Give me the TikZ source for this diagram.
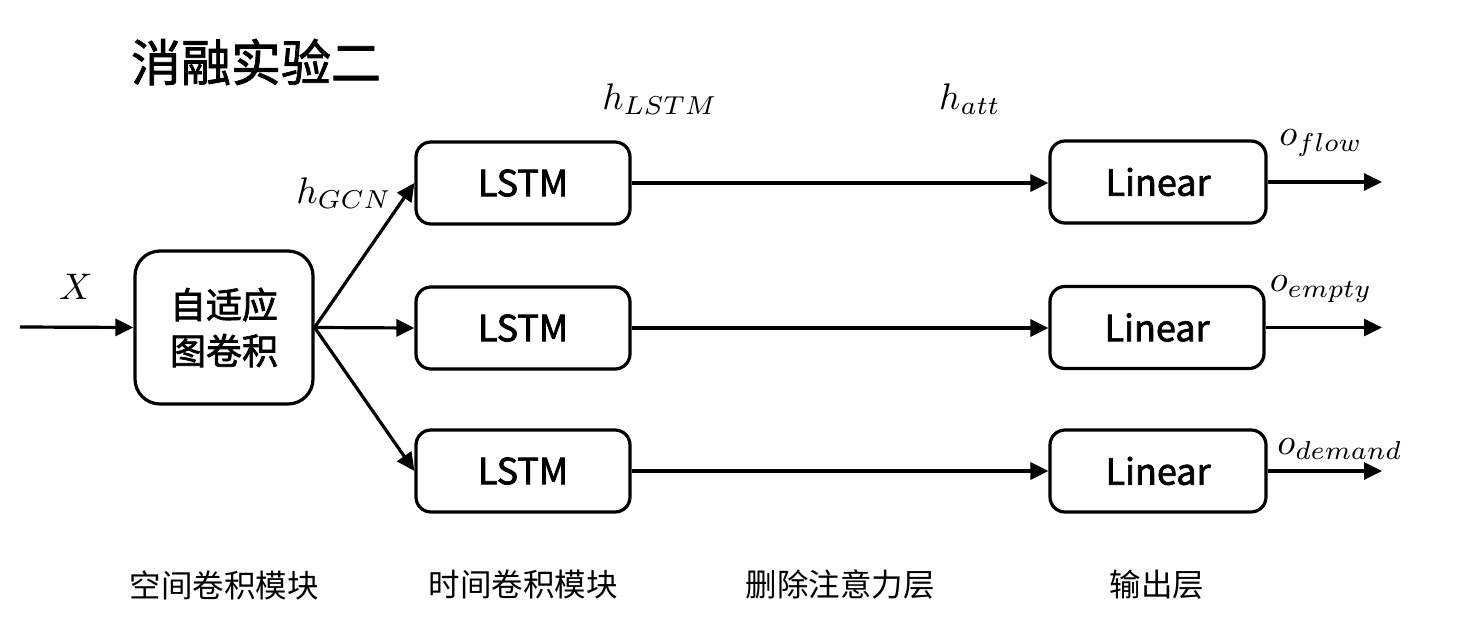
\documentclass[tikz,border=0pt]{standalone}
\usepackage{fontspec}
\usepackage{graphicx}
\newfontfamily\cjk{Noto Sans CJK SC}
\newfontfamily\cjkm{Noto Sans CJK SC}[FakeBold=2]
\newfontfamily\cjkt{Noto Sans CJK SC}[FakeBold=1.5]
\usetikzlibrary{arrows.meta}
\newcommand{\mathlbl}[1]{\scalebox{3.7}{$#1$}}
\begin{document}
\begin{tikzpicture}[x=1pt,y=-1pt,
  box/.style={draw=black,line width=3.2pt,rounded corners=15pt,minimum width=214pt,minimum height=82pt,inner sep=0pt,font=\cjkm\fontsize{36}{40}\selectfont},
  gcnbox/.style={box,rounded corners=25pt,minimum width=178pt,minimum height=153pt,align=center,font=\cjkm\fontsize{36}{46}\selectfont},
  arr/.style={line width=3.2pt,-{Triangle[length=18pt,width=17pt]}},
  lbl/.style={inner sep=0pt},
  captext/.style={inner sep=0pt,font=\cjk\fontsize{31.5}{34}\selectfont}]
\useasboundingbox (0,0) rectangle (1473,639);
\node[inner sep=0pt,font=\cjkt\fontsize{50}{54}\selectfont] (title) at (256,62) {消融实验二};
\coordinate (in) at (20,327);
\node[gcnbox] (gcn) at (224,327.5) {自适应\\图卷积};
\node[box] (l1) at (523,183) {LSTM};
\node[box] (l2) at (523,328) {LSTM};
\node[box] (l3) at (523,471) {LSTM};
\node[box,minimum width=216pt] (o1) at (1158,182) {Linear};
\node[box,minimum width=214pt] (o2) at (1157,327.5) {Linear};
\node[box,minimum width=216pt] (o3) at (1158,471) {Linear};
\coordinate (e1) at (1382,183);
\coordinate (e2) at (1382,328);
\coordinate (e3) at (1382,471);
\draw[arr] (in) -- (gcn.west);
\draw[arr] (gcn.east) -- (l1.west);
\draw[arr] (gcn.east) -- (l2.west);
\draw[arr] (gcn.east) -- (l3.west);
\draw[arr] (l1.east) -- (o1.west |- l1.east);
\draw[arr] (l2.east) -- (o2.west |- l2.east);
\draw[arr] (l3.east) -- (o3.west |- l3.east);
\draw[arr] (o1.east) -- (e1 |- o1.east);
\draw[arr] (o2.east) -- (e2 |- o2.east);
\draw[arr] (o3.east) -- (e3 |- o3.east);
\node[lbl] (xl) at (76,287) {\mathlbl{X}};
\node[lbl] (hg) at (344,193) {\mathlbl{h_{GCN}}};
\node[lbl] (hl) at (660,99) {\mathlbl{h_{LSTM}}};
\node[lbl] (ha) at (970,99) {\mathlbl{h_{att}}};
\node[lbl] (of) at (1321,143) {\mathlbl{o_{flow}}};
\node[lbl] (oe) at (1321,289) {\mathlbl{o_{empty}}};
\node[lbl] (od) at (1340,449) {\mathlbl{o_{demand}}};
\node[captext] (c1) at (224,585) {空间卷积模块};
\node[captext] (c2) at (523,585) {时间卷积模块};
\node[captext] (c3) at (840,585) {删除注意力层};
\node[captext] (c4) at (1157,585) {输出层};
\end{tikzpicture}
\end{document}
